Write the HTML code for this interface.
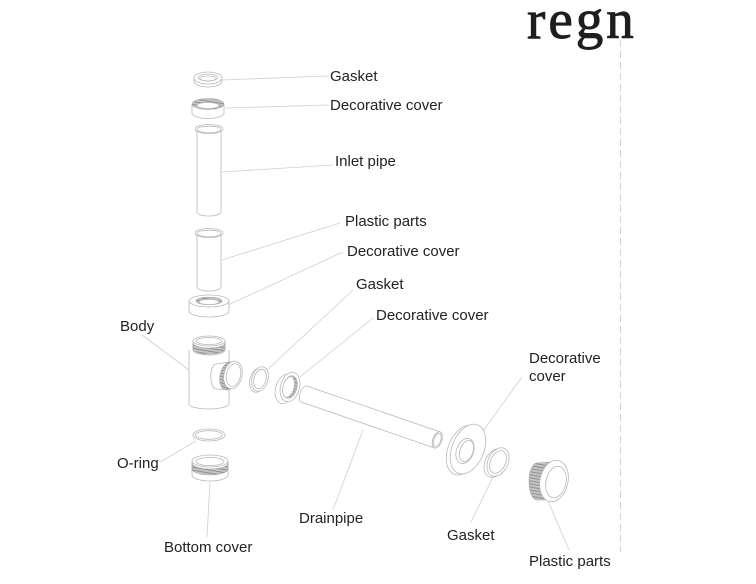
<!DOCTYPE html>
<html><head><meta charset="utf-8">
<style>
html,body{margin:0;padding:0;background:#fff;}
svg{display:block;}
text{font-family:"Liberation Sans",Arial,sans-serif;font-size:15px;fill:#222;}
.p{fill:#fff;stroke:#b8b8b8;stroke-width:0.8;}
.n{fill:none;stroke:#b8b8b8;stroke-width:0.8;}
.l{fill:none;stroke:#cfcfcf;stroke-width:0.8;}
.h{fill:url(#hatch);stroke:#aaa;stroke-width:0.6;}
</style></head>
<body>
<svg width="756" height="584" viewBox="0 0 756 584" xmlns="http://www.w3.org/2000/svg">
<defs>
<pattern id="hatch" width="3" height="3" patternUnits="userSpaceOnUse" patternTransform="rotate(10)">
<rect width="3" height="3" fill="#c4c4c4"/>
<line x1="0" y1="0.5" x2="3" y2="0.5" stroke="#8a8a8a" stroke-width="0.9"/>
</pattern>
</defs>

<!-- logo -->
<text x="527" y="38" style="font-family:'Liberation Serif',serif;font-size:55px;letter-spacing:3px;fill:#1e1e1e;stroke:#1e1e1e;stroke-width:0.9;">regn</text>
<!-- dashed vertical line -->
<line x1="620.5" y1="40" x2="620.5" y2="552" stroke="#d2d2d2" stroke-width="1" stroke-dasharray="7,4"/>

<!-- leader lines -->
<g class="l">
<line x1="223" y1="80" x2="328" y2="76"/>
<line x1="226" y1="108" x2="329" y2="105"/>
<line x1="222" y1="172" x2="333" y2="165"/>
<line x1="222" y1="260" x2="340" y2="223"/>
<line x1="228" y1="305" x2="343" y2="252"/>
<line x1="267" y1="370" x2="353" y2="290"/>
<line x1="300" y1="377" x2="373" y2="318"/>
<line x1="142" y1="335" x2="189" y2="370"/>
<line x1="160" y1="462" x2="196" y2="441"/>
<line x1="210" y1="482" x2="207" y2="537"/>
<line x1="363" y1="430" x2="333" y2="510"/>
<line x1="483" y1="431" x2="522" y2="377"/>
<line x1="493" y1="477" x2="471" y2="522"/>
<line x1="548" y1="501" x2="569" y2="550"/>
</g>

<!-- top gasket -->
<path class="p" d="M194,78 v3 a14,6 0 0 0 28,0 v-3"/>
<ellipse class="p" cx="208" cy="78" rx="14" ry="6"/>
<ellipse class="n" cx="208" cy="77.5" rx="9.5" ry="3.5"/>
<ellipse class="n" cx="208" cy="78.5" rx="8" ry="2.5"/>

<!-- decorative cover 1 -->
<path class="p" d="M192,104 v9 a16,5.5 0 0 0 32,0 v-9"/>
<ellipse class="h" cx="208" cy="104" rx="16" ry="5.5"/>
<ellipse class="p" cx="208" cy="105.5" rx="11" ry="3"/>

<!-- inlet pipe -->
<path class="p" d="M197,129 V212 a12,4 0 0 0 24,0 V129"/>
<ellipse class="p" cx="209" cy="129" rx="14" ry="4.5"/>
<ellipse class="n" cx="209" cy="129.5" rx="12" ry="3.3"/>

<!-- plastic parts pipe -->
<path class="p" d="M197,233 V287 a12,4 0 0 0 24,0 V233"/>
<ellipse class="p" cx="209" cy="233" rx="14" ry="4.5"/>
<ellipse class="n" cx="209" cy="233.5" rx="12" ry="3.3"/>

<!-- decorative cover 2 -->
<path class="p" d="M189,301 v10 a20,6 0 0 0 40,0 v-10"/>
<ellipse class="p" cx="209" cy="301" rx="20" ry="6"/>
<ellipse class="h" cx="209" cy="301" rx="13" ry="3.8"/>
<ellipse class="p" cx="209" cy="302" rx="10" ry="2.6"/>

<!-- body -->
<path class="p" d="M189,350 V404 a20,5 0 0 0 40,0 V350"/>
<path class="p" d="M193,341 v9 a16,5 0 0 0 32,0 v-9"/>
<path class="h" d="M193,343 v6 a16,5 0 0 0 32,0 v-6 a16,5 0 0 1 -32,0z"/>
<ellipse class="p" cx="209" cy="341" rx="16" ry="5"/>
<ellipse class="n" cx="209" cy="341" rx="13" ry="3.5"/>
<!-- side outlet -->
<path class="p" d="M216,364 a5,12 0 0 0 0,25 L230,390 L230,362 z"/>
<ellipse class="h" cx="228" cy="376" rx="8" ry="14" transform="rotate(12 228 376)"/>
<ellipse class="p" cx="233" cy="375" rx="9" ry="14" transform="rotate(12 233 375)"/>
<ellipse class="n" cx="233.5" cy="375" rx="7" ry="11.5" transform="rotate(12 233.5 375)"/>

<!-- small gasket -->
<ellipse class="p" cx="258" cy="380" rx="8" ry="12.5" transform="rotate(15 258 380)"/>
<ellipse class="p" cx="260" cy="379" rx="8" ry="12.5" transform="rotate(15 260 379)"/>
<ellipse class="n" cx="260" cy="379" rx="6" ry="10" transform="rotate(15 260 379)"/>

<!-- decorative cover 3 -->
<ellipse class="p" cx="285" cy="389" rx="9.5" ry="15" transform="rotate(15 285 389)"/>
<ellipse class="p" cx="290" cy="387" rx="9.5" ry="15" transform="rotate(15 290 387)"/>
<ellipse class="h" cx="290" cy="387" rx="7" ry="11.5" transform="rotate(15 290 387)"/>
<ellipse class="p" cx="288.5" cy="387" rx="5.5" ry="10.5" transform="rotate(15 288.5 387)"/>

<!-- drainpipe -->
<g transform="translate(304,394) rotate(19)">
<path class="p" d="M0,-8.5 H141 V8.5 H0 a4,8.5 0 0 1 0,-17z"/>
<ellipse class="p" cx="141" cy="0" rx="4.5" ry="8.5"/>
<ellipse class="n" cx="141" cy="0" rx="3.3" ry="7"/>
</g>

<!-- decorative cover right (flange) -->
<ellipse class="p" cx="464" cy="450" rx="16" ry="26" transform="rotate(22 464 450)"/>
<ellipse class="p" cx="468" cy="449" rx="16" ry="26" transform="rotate(22 468 449)"/>
<ellipse class="p" cx="465" cy="451" rx="8.5" ry="13" transform="rotate(20 465 451)"/>
<ellipse class="n" cx="466.5" cy="451" rx="6.5" ry="11" transform="rotate(20 466.5 451)"/>

<!-- gasket right -->
<ellipse class="p" cx="495" cy="463" rx="10" ry="15" transform="rotate(25 495 463)"/>
<ellipse class="p" cx="498" cy="462" rx="10" ry="15" transform="rotate(25 498 462)"/>
<ellipse class="n" cx="498" cy="462" rx="7.5" ry="12" transform="rotate(25 498 462)"/>

<!-- plastic parts right -->
<path class="h" d="M537,463 L552,462 L552,500 L537,500 a8,18.5 0 0 1 0,-37z"/>
<ellipse class="p" cx="554" cy="481" rx="14" ry="21" transform="rotate(12 554 481)"/>
<ellipse class="n" cx="556" cy="482" rx="10" ry="16" transform="rotate(12 556 482)"/>

<!-- labels -->
<text x="330" y="81">Gasket</text>
<text x="330" y="110">Decorative cover</text>
<text x="335" y="166">Inlet pipe</text>
<text x="345" y="226">Plastic parts</text>
<text x="347" y="256">Decorative cover</text>
<text x="356" y="289">Gasket</text>
<text x="376" y="320">Decorative cover</text>
<text x="120" y="331">Body</text>
<text x="529" y="363">Decorative</text>
<text x="529" y="381">cover</text>
<text x="117" y="468">O-ring</text>
<text x="299" y="523">Drainpipe</text>
<text x="447" y="540">Gasket</text>
<text x="164" y="552">Bottom cover</text>
<text x="529" y="566">Plastic parts</text>

<!-- O-ring -->
<ellipse class="p" cx="209" cy="435" rx="16" ry="6"/>
<ellipse class="n" cx="209" cy="435" rx="13.5" ry="4.3"/>

<!-- bottom cover -->
<path class="p" d="M192,461 v14 a18,6 0 0 0 36,0 v-14"/>
<path class="h" d="M192,463 v6 a18,6 0 0 0 36,0 v-6 a18,6 0 0 1 -36,0z"/>
<ellipse class="p" cx="210" cy="461" rx="18" ry="6"/>
<ellipse class="n" cx="210" cy="461.5" rx="14" ry="4"/>
</svg>
</body></html>
